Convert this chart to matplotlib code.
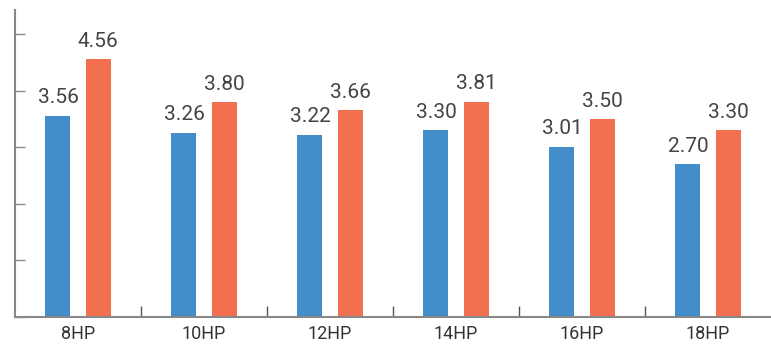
import matplotlib
matplotlib.use("Agg")
import matplotlib.pyplot as plt
import numpy as np

categories = ["8HP", "10HP", "12HP", "14HP", "16HP", "18HP"]
series_a = [3.56, 3.26, 3.22, 3.30, 3.01, 2.70]
series_b = [4.56, 3.80, 3.66, 3.81, 3.50, 3.30]

blue = "#428DCA"
orange = "#F27050"
plt.rcParams['font.family'] = ['Roboto', 'DejaVu Sans']

fig = plt.figure(figsize=(7.71, 3.48), dpi=100)
ax = fig.add_axes([15/771, 31.3/348, 1 - 15/771, (316.7 - 10)/348])

x = np.arange(len(categories))
off = 0.159
w = 0.198
ba = ax.bar(x - off, series_a, w, color=blue)
bb = ax.bar(x + off, series_b, w, color=orange)
for bars, vals in ((ba, series_a), (bb, series_b)):
    for r, v in zip(bars, vals):
        ax.annotate(f"{v:.2f}", (r.get_x() + r.get_width()/2, v), xytext=(0, 6),
                    textcoords="offset points", ha="center", va="bottom",
                    fontsize=15, color="#444444")

ax.set_xlim(-0.5, len(categories) - 0.5)
ax.set_ylim(0, 5.43)
ax.set_yticks([0, 1, 2, 3, 4, 5])
ax.set_yticklabels([])
ax.tick_params(axis='y', direction='in', length=7, color="#888888", width=1)
ax.set_xticks(x)
ax.set_xticklabels(categories, fontsize=13, color="#333333")
ax.set_xticks(np.arange(len(categories) - 1) + 0.5, minor=True)
ax.tick_params(axis='x', which='major', length=0, pad=6)
ax.tick_params(axis='x', which='minor', direction='in', length=8, color="#555555", width=1)
for s in ("top", "right"):
    ax.spines[s].set_visible(False)
for s in ("left", "bottom"):
    ax.spines[s].set_color("#888888")
    ax.spines[s].set_linewidth(1.5)

fig.savefig("out.png", dpi=100)
